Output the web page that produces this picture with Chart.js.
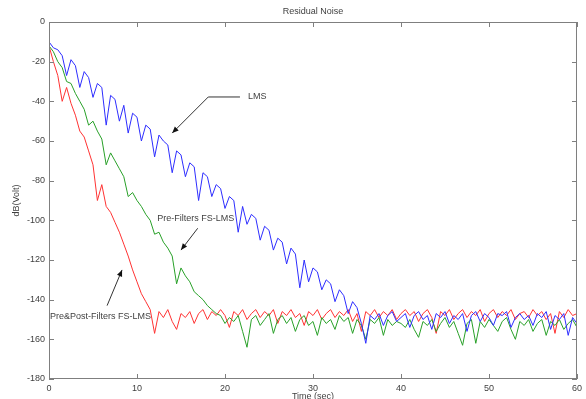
<!DOCTYPE html>
<html>
<head>
<meta charset="utf-8">
<script src="https://cdn.jsdelivr.net/npm/chart.js@4/dist/chart.umd.min.js"></script>
<style>
  html, body { margin: 0; padding: 0; background: #fff; }
  #wrap { width: 586px; height: 399px; }
</style>
</head>
<body>
<div id="wrap"><canvas id="noise-chart"></canvas></div>
<script>
// time axis (sec)
var times = [0,0.5,1,1.5,2,2.5,3,3.5,4,4.5,5,5.5,6,6.5,7,7.5,8,8.5,9,9.5,
  10,10.5,11,11.5,12,12.5,13,13.5,14,14.5,15,15.5,16,16.5,17,17.5,18,18.5,19,19.5,
  20,20.5,21,21.5,22,22.5,23,23.5,24,24.5,25,25.5,26,26.5,27,27.5,28,28.5,29,29.5,
  30,30.5,31,31.5,32,32.5,33,33.5,34,34.5,35,35.5,36,36.5,37,37.5,38,38.5,39,39.5,
  40,40.5,41,41.5,42,42.5,43,43.5,44,44.5,45,45.5,46,46.5,47,47.5,48,48.5,49,49.5,
  50,50.5,51,51.5,52,52.5,53,53.5,54,54.5,55,55.5,56,56.5,57,57.5,58,58.5,59,59.5,60];

// LMS (blue)
var lms = [-10,-13,-14,-17,-27,-19,-22,-33,-25,-28,-38,-31,-33,-52,-37,-39,-50,-42,-56,-46,
  -48,-60,-52,-54,-68,-57,-60,-62,-76,-65,-67,-78,-71,-73,-90,-76,-78,-88,-82,-84,
  -94,-88,-90,-106,-93,-102,-97,-99,-110,-103,-105,-115,-109,-111,-122,-114,-117,-134,-120,-131,
  -124,-126,-135,-130,-132,-141,-135,-138,-147,-141,-144,-152,-162,-148,-150,-147,-153,-148,-146,-151,
  -149,-147,-154,-148,-146,-150,-148,-155,-147,-149,-146,-152,-148,-150,-147,-156,-148,-146,-151,-147,
  -149,-153,-147,-148,-146,-154,-149,-147,-150,-148,-153,-147,-149,-146,-155,-148,-150,-147,-158,-149,-152];

// Pre-Filters FS-LMS (green)
var preFs = [-12,-15,-20,-23,-30,-31,-36,-40,-44,-52,-50,-55,-59,-72,-66,-70,-74,-78,-88,-86,
  -90,-93,-97,-100,-107,-106,-111,-114,-118,-132,-124,-128,-131,-136,-138,-140,-143,-145,-147,-148,
  -152,-149,-151,-148,-156,-164,-150,-148,-153,-150,-147,-157,-150,-148,-152,-149,-156,-150,-148,-153,
  -151,-158,-149,-152,-150,-155,-148,-151,-149,-157,-150,-153,-160,-150,-152,-149,-158,-150,-153,-151,
  -152,-154,-150,-155,-159,-151,-153,-150,-156,-152,-149,-154,-151,-157,-163,-152,-150,-162,-151,-154,
  -150,-153,-156,-151,-149,-155,-160,-151,-153,-150,-156,-152,-150,-158,-151,-153,-150,-155,-152,-150,-154];

// Pre&Post-Filters FS-LMS (red)
var prePostFs = [-12,-20,-27,-40,-33,-41,-47,-55,-58,-65,-72,-90,-82,-93,-96,-101,-106,-112,-118,-125,
  -131,-137,-141,-145,-157,-146,-149,-145,-151,-155,-147,-149,-146,-152,-147,-145,-150,-146,-148,-145,
  -148,-154,-146,-148,-145,-150,-147,-145,-149,-146,-148,-145,-152,-146,-148,-145,-149,-147,-153,-146,
  -148,-145,-150,-147,-145,-149,-146,-148,-145,-151,-147,-156,-146,-148,-145,-149,-146,-148,-145,-150,
  -147,-145,-148,-146,-151,-147,-145,-149,-157,-146,-148,-145,-150,-147,-145,-149,-146,-148,-145,-151,
  -147,-145,-149,-146,-148,-145,-150,-147,-146,-149,-145,-148,-146,-150,-147,-157,-146,-149,-145,-148,-147];

var xTicks = [0, 10, 20, 30, 40, 50, 60];
var yTicks = [0, -20, -40, -60, -80, -100, -120, -140, -160, -180];

// annotation text and arrows, in data units (sec, dB)
var notes = [
  { text: 'LMS', at: [22.6, -37.8], path: [[21.7, -37.8], [18.1, -37.8], [14.0, -56]] },
  { text: 'Pre-Filters FS-LMS', at: [12.3, -99], path: [[16.9, -104], [15.0, -115]] },
  { text: 'Pre&Post-Filters FS-LMS', at: [0.1, -148.3], path: [[6.6, -143], [8.3, -125]] }
];

function toPoints(vals) {
  return vals.map(function (v, i) { return { x: times[i], y: v }; });
}

var axisColor = '#7f7f7f';
var textColor = '#3f3f3f';
var fontFamily = '"Liberation Sans", Arial, sans-serif';

var matlabFrame = {
  id: 'matlabFrame',
  afterDatasetsDraw: function (chart) {
    var ctx = chart.ctx;
    var a = chart.chartArea;
    var xs = chart.scales.x, ys = chart.scales.y;
    ctx.save();
    ctx.strokeStyle = axisColor;
    ctx.lineWidth = 1;
    ctx.strokeRect(a.left + 0.5, a.top + 0.5, a.right - a.left - 1, a.bottom - a.top - 1);
    // inward ticks on all sides
    ctx.beginPath();
    xTicks.forEach(function (t) {
      var px = Math.round(xs.getPixelForValue(t)) + 0.5;
      ctx.moveTo(px, a.bottom); ctx.lineTo(px, a.bottom - 5);
      ctx.moveTo(px, a.top); ctx.lineTo(px, a.top + 5);
    });
    yTicks.forEach(function (t) {
      var py = Math.round(ys.getPixelForValue(t)) + 0.5;
      ctx.moveTo(a.left, py); ctx.lineTo(a.left + 5, py);
      ctx.moveTo(a.right, py); ctx.lineTo(a.right - 5, py);
    });
    ctx.stroke();

    // title and axis titles
    ctx.fillStyle = textColor;
    ctx.font = '9px ' + fontFamily;
    ctx.textAlign = 'center';
    ctx.textBaseline = 'middle';
    ctx.fillText('Residual Noise', (a.left + a.right) / 2, 12);
    ctx.textBaseline = 'top';
    ctx.fillText('Time (sec)', (a.left + a.right) / 2, 392);
    ctx.save();
    ctx.translate(17, (a.top + a.bottom) / 2);
    ctx.rotate(-Math.PI / 2);
    ctx.textBaseline = 'middle';
    ctx.fillText('dB(Volt)', 0, 0);
    ctx.restore();

    // annotations with arrows
    notes.forEach(function (n) {
      ctx.textAlign = 'left';
      ctx.textBaseline = 'middle';
      ctx.fillStyle = textColor;
      ctx.fillText(n.text, xs.getPixelForValue(n.at[0]), ys.getPixelForValue(n.at[1]));
      var pts = n.path.map(function (p) { return [xs.getPixelForValue(p[0]), ys.getPixelForValue(p[1])]; });
      ctx.strokeStyle = '#333';
      ctx.beginPath();
      ctx.moveTo(pts[0][0], pts[0][1]);
      for (var i = 1; i < pts.length; i++) ctx.lineTo(pts[i][0], pts[i][1]);
      ctx.stroke();
      var tip = pts[pts.length - 1], prev = pts[pts.length - 2];
      var ang = Math.atan2(tip[1] - prev[1], tip[0] - prev[0]);
      ctx.fillStyle = '#111';
      ctx.beginPath();
      ctx.moveTo(tip[0], tip[1]);
      ctx.lineTo(tip[0] - 7 * Math.cos(ang - 0.4), tip[1] - 7 * Math.sin(ang - 0.4));
      ctx.lineTo(tip[0] - 7 * Math.cos(ang + 0.4), tip[1] - 7 * Math.sin(ang + 0.4));
      ctx.closePath();
      ctx.fill();
    });
    ctx.restore();
  }
};

var ctx = document.getElementById('noise-chart').getContext('2d');
var chart = new Chart(ctx, {
  type: 'line',
  data: {
    datasets: [
      { label: 'LMS', data: toPoints(lms), borderColor: 'rgb(45,45,255)', borderWidth: 1, pointRadius: 0, tension: 0 },
      { label: 'Pre-Filters FS-LMS', data: toPoints(preFs), borderColor: 'rgb(40,160,40)', borderWidth: 1, pointRadius: 0, tension: 0 },
      { label: 'Pre&Post-Filters FS-LMS', data: toPoints(prePostFs), borderColor: 'rgb(255,50,50)', borderWidth: 1, pointRadius: 0, tension: 0 }
    ]
  },
  options: {
    responsive: true,
    maintainAspectRatio: false,
    animation: false,
    layout: { padding: { top: 22, right: 9, left: 0, bottom: 0 } },
    plugins: { legend: { display: false }, tooltip: { enabled: false } },
    scales: {
      x: {
        type: 'linear', min: 0, max: 60,
        afterFit: function (s) { s.height = 20; },
        afterBuildTicks: function (s) { s.ticks = xTicks.map(function (v) { return { value: v }; }); },
        grid: { display: false, drawTicks: false },
        border: { display: false },
        ticks: { color: textColor, font: { size: 9, family: fontFamily }, padding: 4, maxRotation: 0 }
      },
      y: {
        type: 'linear', min: -180, max: 0,
        afterFit: function (s) { s.width = 49; },
        afterBuildTicks: function (s) { s.ticks = yTicks.map(function (v) { return { value: v }; }); },
        grid: { display: false, drawTicks: false },
        border: { display: false },
        ticks: { color: textColor, font: { size: 9, family: fontFamily }, padding: 4 }
      }
    }
  },
  plugins: [matlabFrame]
});
</script>
</body>
</html>
